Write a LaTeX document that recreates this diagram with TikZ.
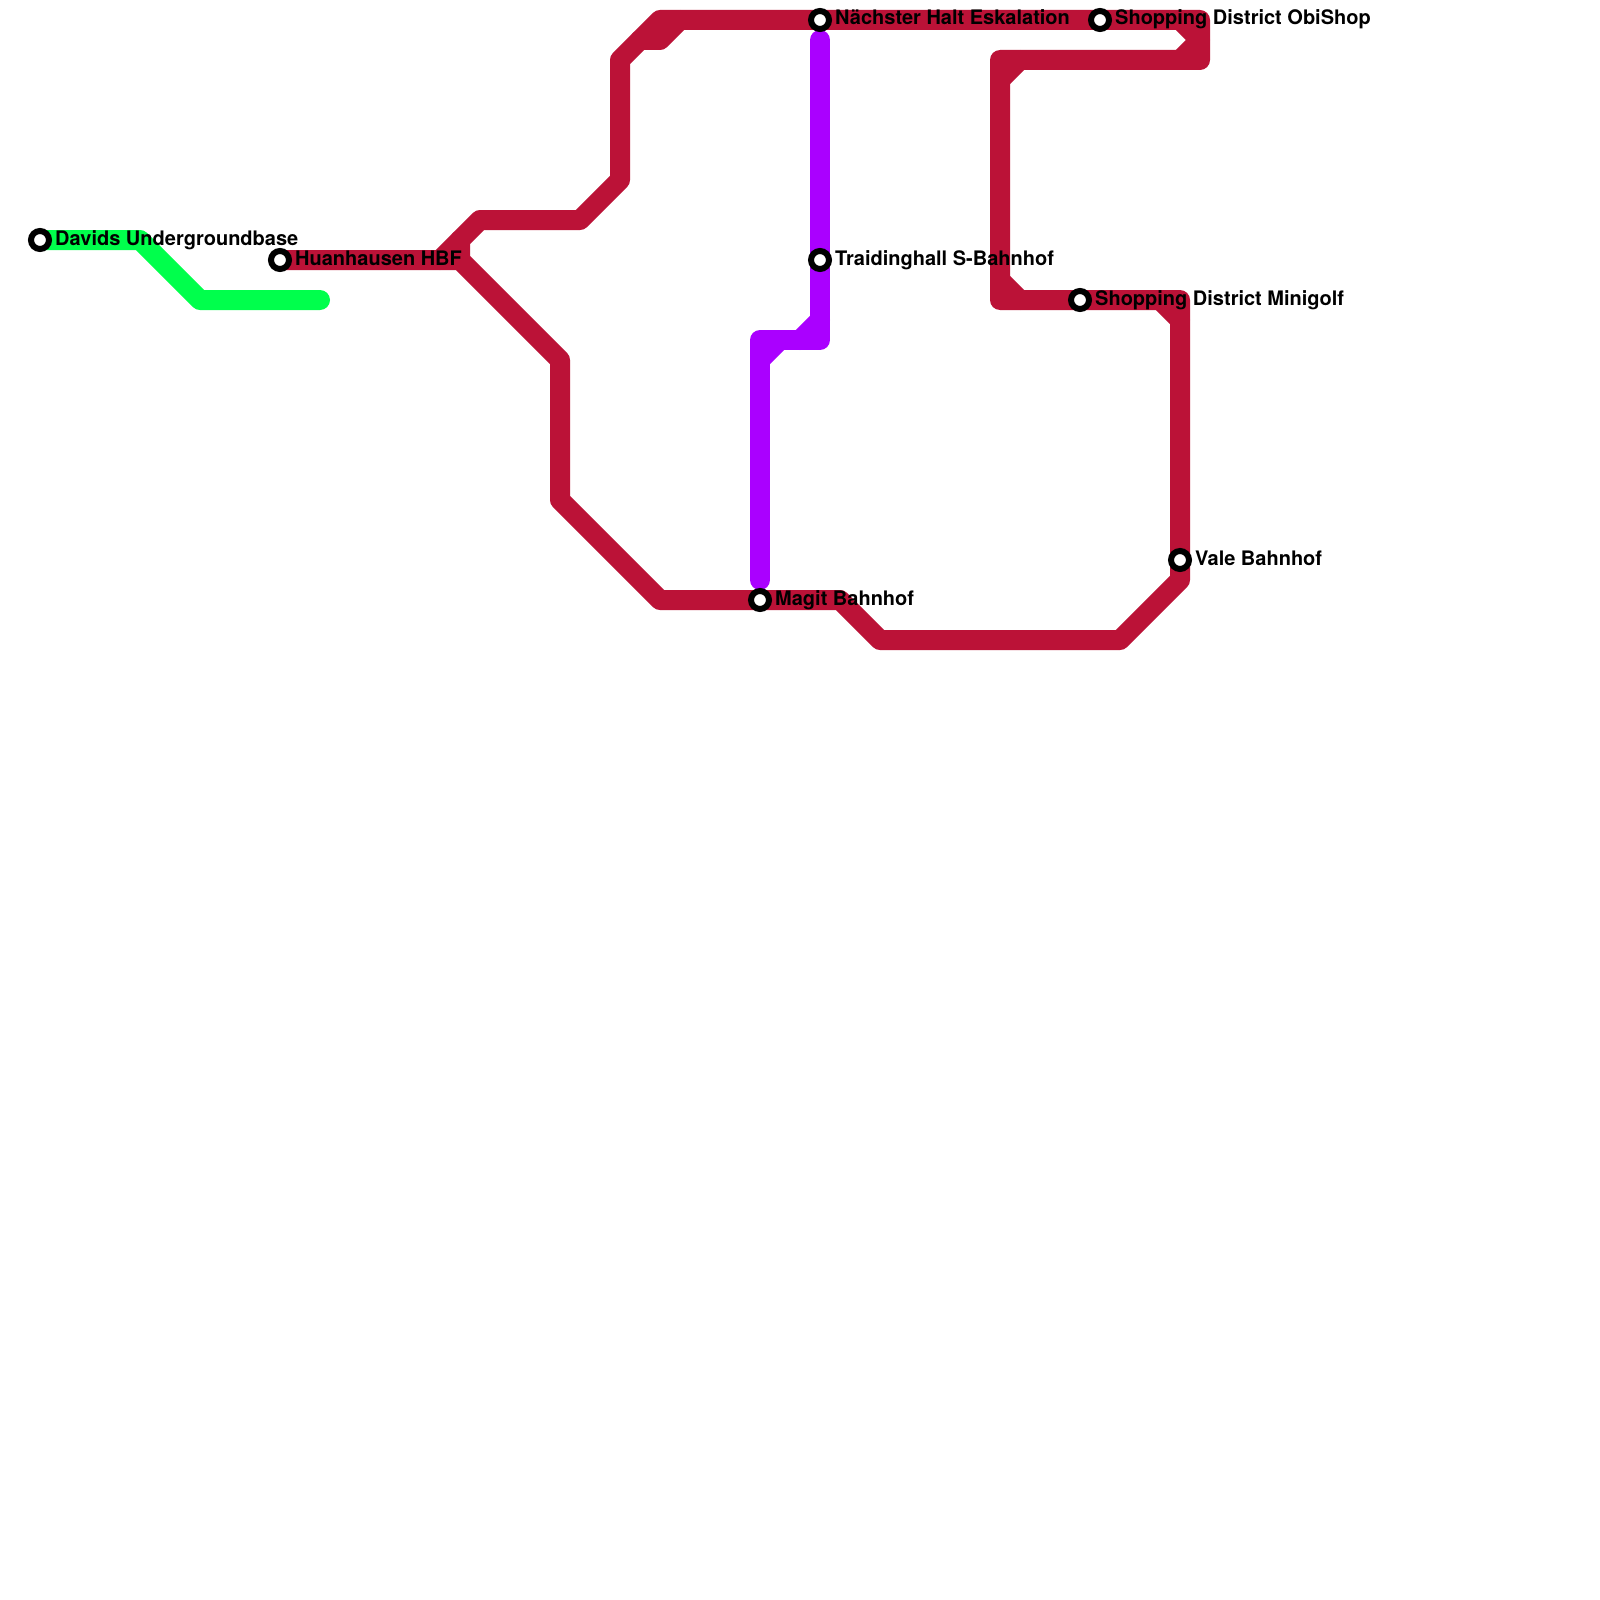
\documentclass[tikz,border=0pt]{standalone}
\usepackage{fontspec}
\setmainfont{TeX Gyre Heros}
\definecolor{redline}{RGB}{187,18,55}
\definecolor{greenline}{RGB}{0,255,76}
\definecolor{purpleline}{RGB}{170,0,255}
\tikzset{
  route/.style={line width=20pt,line cap=round,line join=round},
  stop/.style={circle,draw=black,fill=white,line width=6pt,minimum size=18pt,inner sep=0pt,outer sep=0pt},
  stoplabel/.style={anchor=base west,inner sep=0pt,font=\fontsize{20}{22}\selectfont\bfseries,text=black}
}
\begin{document}
\begin{tikzpicture}[x=1pt,y=-1pt]
\useasboundingbox (0,0) rectangle (1600,1600);
\fill[white] (0,0) rectangle (1600,1600);
\coordinate (davids) at (40,240);
\coordinate (huan) at (280,260);
\coordinate (naechster) at (820,20);
\coordinate (traiding) at (820,260);
\coordinate (obi) at (1100,20);
\coordinate (mini) at (1080,300);
\coordinate (vale) at (1180,560);
\coordinate (magit) at (760,600);
% green
\draw[route,greenline] (davids) -- (140,240) -- (200,300) -- (320,300);
% red
\draw[route,redline] (huan) -- (460,260) -- (560,360) -- (560,500) -- (660,600) -- (magit) -- (840,600) -- (880,640) -- (1120,640) -- (1180,580) -- (vale) -- (1180,300) -- (mini) -- (1000,300) -- (1000,60) -- (1200,60) -- (1200,20) -- (obi) -- (naechster) -- (660,20) -- (640,40) -- (620,60) -- (620,180) -- (580,220) -- (480,220) -- (460,240) -- (460,260);
\draw[route,redline] (440,260) -- (460,240);
\draw[route,redline] (640,40) -- (660,40) -- (680,20);
\draw[route,redline] (1180,20) -- (1200,40) -- (1180,60);
\draw[route,redline] (1000,80) -- (1020,60);
\draw[route,redline] (1000,280) -- (1020,300);
\draw[route,redline] (1160,300) -- (1180,320);
% purple
\draw[route,purpleline] (820,40) -- (traiding) -- (820,340) -- (760,340) -- (760,580);
\draw[route,purpleline] (800,340) -- (820,320);
\draw[route,purpleline] (760,360) -- (780,340);
% stations
\node[stop] (sdavids) at (davids) {};
\node[stop] (shuan) at (huan) {};
\node[stop] (snaechster) at (naechster) {};
\node[stop] (straiding) at (traiding) {};
\node[stop] (sobi) at (obi) {};
\node[stop] (smini) at (mini) {};
\node[stop] (svale) at (vale) {};
\node[stop] (smagit) at (magit) {};
% labels
\node[stoplabel] (ldavids) at (55,245) {Davids Undergroundbase};
\node[stoplabel] (lhuan) at (295,265) {Huanhausen HBF};
\node[stoplabel] (lnaechster) at (835,25) {Nächster Halt Eskalation};
\node[stoplabel] (ltraiding) at (835,265) {Traidinghall S-Bahnhof};
\node[stoplabel] (lobi) at (1115,25) {Shopping District ObiShop};
\node[stoplabel] (lmini) at (1095,305) {Shopping District Minigolf};
\node[stoplabel] (lvale) at (1195,565) {Vale Bahnhof};
\node[stoplabel] (lmagit) at (775,605) {Magit Bahnhof};
\end{tikzpicture}
\end{document}
